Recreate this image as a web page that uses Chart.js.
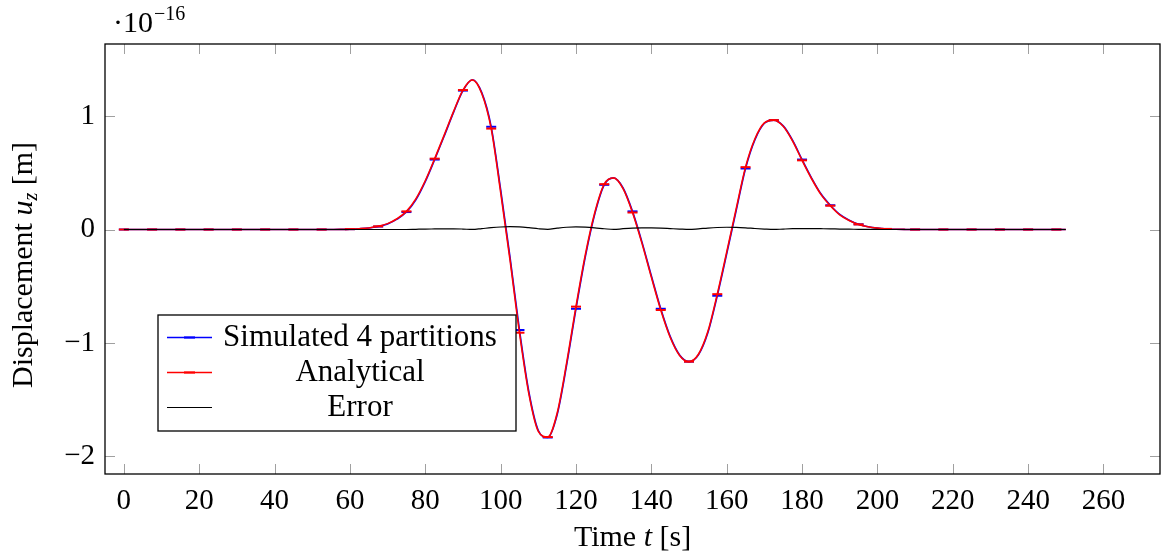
<!DOCTYPE html>
<html>
<head>
<meta charset="utf-8">
<script src="https://cdn.jsdelivr.net/npm/chart.js@4/dist/chart.umd.min.js"></script>
<style>
  html, body { margin: 0; padding: 0; background: #fff; }
</style>
</head>
<body>
<canvas id="myChart" width="1167" height="556"></canvas>
<script>
// samples every 2.5 s from 0 to 250 s, values in units of 1e-16 m
var analytical = [
  0,0,0,0,0,0,0,0,0,0,0,0,0,0,0,0,0,0,0,0,0,0,
  0.0005,0.001,0.003,0.007,0.014,0.028,0.052,0.095,0.16,0.27,
  0.43,0.625,0.83,1.04,1.23,1.32,1.20,0.89,0.33,-0.27,
  -0.91,-1.45,-1.78,-1.83,-1.62,-1.18,-0.68,-0.22,0.15,0.40,
  0.455,0.36,0.15,-0.12,-0.42,-0.71,-0.95,-1.11,-1.165,-1.10,
  -0.90,-0.57,-0.20,0.18,0.55,0.80,0.94,0.965,0.91,0.78,
  0.61,0.45,0.31,0.21,0.13,0.08,0.045,0.024,0.012,0.005,
  0.002,0.0007,
  0,0,0,0,0,0,0,0,0,0,0,0,0,0,0,0,0
];
var simulated = [
  0,0,0,0,0,0,0,0,0,0,0,0,0,0,0,0,0,0,0,0,0,0,
  0.0005,0.001,0.003,0.007,0.013,0.026,0.049,0.091,0.154,0.262,
  0.422,0.617,0.822,1.033,1.225,1.321,1.207,0.906,0.353,-0.245,
  -0.886,-1.433,-1.772,-1.834,-1.633,-1.199,-0.699,-0.237,0.138,0.394,
  0.455,0.366,0.160,-0.109,-0.408,-0.699,-0.942,-1.106,-1.165,-1.105,
  -0.911,-0.584,-0.215,0.165,0.538,0.792,0.937,0.965,0.914,0.786,
  0.617,0.456,0.315,0.214,0.133,0.082,0.046,0.025,0.012,0.005,
  0.002,0.0007,
  0,0,0,0,0,0,0,0,0,0,0,0,0,0,0,0,0
];
var errorVals = [
  0,0,0,0,0,0,0,0,0,0,0,0,0,0,0,0,0,0,0,0,0,0,
  0,0,0,0,0,0,0,0,0,0.002,
  0.004,0.005,0.006,0.006,0.004,0.0005,0.008,0.016,0.022,0.025,
  0.023,0.016,0.007,0.002,0.012,0.02,0.023,0.021,0.015,0.007,
  0.0005,0.007,0.012,0.014,0.014,0.012,0.008,0.004,0.0005,0.006,
  0.013,0.018,0.02,0.019,0.015,0.009,0.004,0.0005,0.004,0.007,
  0.008,0.008,0.007,0.006,0.004,0.003,0.002,0.001,0.0005,0,
  0,0,
  0,0,0,0,0,0,0,0,0,0,0,0,0,0,0,0,0
];
var xTicks = [0,20,40,60,80,100,120,140,160,180,200,220,240,260];
var yTicks = [-2,-1,0,1];
var labels = ['Simulated 4 partitions', 'Analytical', 'Error'];

var times = analytical.map(function(v, i) { return i * 2.5; });
function pts(arr) {
  return arr.map(function(v, i) { return {x: times[i], y: v}; });
}

var FONT = '"Liberation Serif", "Times New Roman", serif';

function markEvery3(ctx) {
  return ctx.dataIndex % 3 === 0 ? 5 : 0;
}

var frame = {
  id: 'frame',
  afterDraw: function(chart) {
    var ctx = chart.ctx, a = chart.chartArea;
    var xs = chart.scales.x, ys = chart.scales.y;
    ctx.save();

    // inward ticks on all sides
    ctx.strokeStyle = '#a0a0a0';
    ctx.lineWidth = 1;
    ctx.beginPath();
    xTicks.forEach(function(v) {
      var px = Math.round(xs.getPixelForValue(v)) + 0.5;
      ctx.moveTo(px, a.bottom); ctx.lineTo(px, a.bottom - 10);
      ctx.moveTo(px, a.top); ctx.lineTo(px, a.top + 10);
    });
    yTicks.forEach(function(v) {
      var py = Math.round(ys.getPixelForValue(v)) + 0.5;
      ctx.moveTo(a.left, py); ctx.lineTo(a.left + 10, py);
      ctx.moveTo(a.right, py); ctx.lineTo(a.right - 10, py);
    });
    ctx.stroke();

    // plot box
    ctx.strokeStyle = '#000';
    ctx.lineWidth = 1.3;
    ctx.strokeRect(a.left, a.top, a.right - a.left, a.bottom - a.top);

    ctx.fillStyle = '#000';
    ctx.textBaseline = 'alphabetic';
    ctx.textAlign = 'left';

    // exponent label
    ctx.font = '30px ' + FONT;
    ctx.fillText('\u00b710', 113, 32);
    var w10 = ctx.measureText('\u00b710').width;
    ctx.font = '20px ' + FONT;
    ctx.fillText('\u221216', 113 + w10 + 1, 20);

    // x title: Time t [s]
    var xParts = [['Time ', ''], ['t', 'italic '], [' [s]', '']];
    var tot = 0;
    xParts.forEach(function(p) { ctx.font = p[1] + '30px ' + FONT; tot += ctx.measureText(p[0]).width; });
    var cx = (a.left + a.right) / 2 - tot / 2;
    xParts.forEach(function(p) {
      ctx.font = p[1] + '30px ' + FONT;
      ctx.fillText(p[0], cx, 546);
      cx += ctx.measureText(p[0]).width;
    });

    // y title: Displacement u_z [m]
    ctx.save();
    ctx.translate(32, (a.top + a.bottom) / 2 + 6);
    ctx.rotate(-Math.PI / 2);
    var yParts = [['Displacement ', '', 30, 0], ['u', 'italic ', 30, 0], ['z', 'italic ', 20, 5], [' [m]', '', 30, 0]];
    tot = 0;
    yParts.forEach(function(p) { ctx.font = p[1] + p[2] + 'px ' + FONT; tot += ctx.measureText(p[0]).width; });
    cx = -tot / 2;
    yParts.forEach(function(p) {
      ctx.font = p[1] + p[2] + 'px ' + FONT;
      ctx.fillText(p[0], cx, p[3]);
      cx += ctx.measureText(p[0]).width;
    });
    ctx.restore();

    // legend
    var lx = 158, ly = 315, lw = 358, lh = 116;
    ctx.fillStyle = '#fff';
    ctx.fillRect(lx, ly, lw, lh);
    ctx.strokeStyle = '#000';
    ctx.lineWidth = 1.3;
    ctx.strokeRect(lx, ly, lw, lh);
    ctx.textAlign = 'center';
    ctx.textBaseline = 'middle';
    ctx.font = '31px ' + FONT;
    var rows = [337, 372, 407];
    chart.data.datasets.forEach(function(ds, i) {
      var y = rows[i];
      ctx.strokeStyle = ds.borderColor;
      ctx.lineWidth = ds.borderWidth;
      ctx.beginPath();
      ctx.moveTo(167, y + 0.5); ctx.lineTo(212, y + 0.5);
      ctx.stroke();
      if (ds.pointStyle === 'line') {
        ctx.lineWidth = 2.2;
        ctx.beginPath();
        ctx.moveTo(184, y + 0.5); ctx.lineTo(195, y + 0.5);
        ctx.stroke();
      }
      ctx.fillStyle = '#000';
      ctx.fillText(ds.label, 360, y + 1);
    });
    ctx.restore();
  }
};

new Chart(document.getElementById('myChart'), {
  type: 'line',
  data: {
    datasets: [
      {
        label: labels[0],
        data: pts(simulated),
        borderColor: '#0000ff',
        backgroundColor: '#0000ff',
        borderWidth: 1.6,
        pointStyle: 'line',
        pointRadius: markEvery3,
        pointBorderWidth: 2,
        pointBorderColor: '#0000ff',
        cubicInterpolationMode: 'monotone',
        fill: false,
        order: 3
      },
      {
        label: labels[1],
        data: pts(analytical),
        borderColor: '#ff0000',
        backgroundColor: '#ff0000',
        borderWidth: 1.6,
        pointStyle: 'line',
        pointRadius: markEvery3,
        pointBorderWidth: 2,
        pointBorderColor: '#ff0000',
        cubicInterpolationMode: 'monotone',
        fill: false,
        order: 2
      },
      {
        label: labels[2],
        data: pts(errorVals),
        borderColor: '#000000',
        backgroundColor: '#000000',
        borderWidth: 1.2,
        pointRadius: 0,
        cubicInterpolationMode: 'monotone',
        fill: false,
        order: 1
      }
    ]
  },
  options: {
    responsive: false,
    animation: false,
    layout: { padding: { top: 44, right: 5, left: 0, bottom: 0 } },
    plugins: { legend: { display: false }, tooltip: { enabled: false } },
    scales: {
      x: {
        type: 'linear',
        min: -5,
        max: 275,
        grid: { display: false, drawTicks: false },
        border: { display: false },
        afterFit: function(s) { s.height = 82; },
        afterBuildTicks: function(s) { s.ticks = xTicks.map(function(v) { return {value: v}; }); },
        ticks: {
          color: '#000',
          padding: 10,
          maxRotation: 0,
          autoSkip: false,
          font: { family: FONT, size: 29 }
        }
      },
      y: {
        type: 'linear',
        min: -2.156,
        max: 1.636,
        grid: { display: false, drawTicks: false },
        border: { display: false },
        afterFit: function(s) { s.width = 105; },
        afterBuildTicks: function(s) { s.ticks = yTicks.map(function(v) { return {value: v}; }); },
        ticks: {
          color: '#000',
          padding: 10,
          font: { family: FONT, size: 29 },
          callback: function(v) { return String(v).replace('-', '\u2212'); }
        }
      }
    }
  },
  plugins: [frame]
});
</script>
</body>
</html>
